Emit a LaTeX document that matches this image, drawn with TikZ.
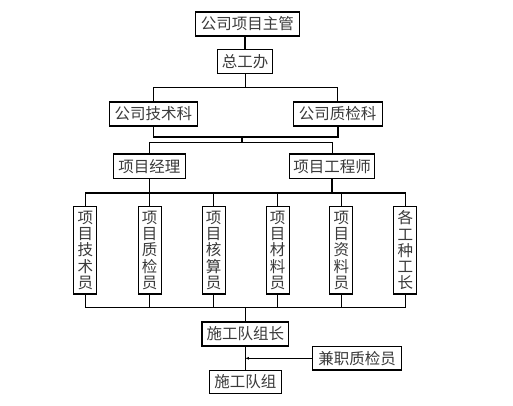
\documentclass[tikz,border=0pt]{standalone}
\usepackage{fontspec}
\setmainfont{Noto Sans CJK SC}
\usetikzlibrary{arrows.meta}
\definecolor{txt}{HTML}{3A3A3A}
\tikzset{
  box/.style={draw=black, line width=1.1pt, fill=white, inner sep=0pt, text=txt,
    font=\fontsize{15.5}{16.3}\selectfont, align=center},
  vbox/.style={box, minimum width=23pt, minimum height=87.3pt, text width=16pt},
  conn/.style={draw=black, line width=0.9pt},
  thick conn/.style={draw=black, line width=1.6pt},
}
\begin{document}
\begin{tikzpicture}[x=1pt,y=-1pt]
\useasboundingbox (0,0) rectangle (513,406);
\node[box, minimum width=104pt, minimum height=24pt] (top) at (247.3,24) {公司项目主管};
\node[box, minimum width=55.4pt, minimum height=24pt] (zgb) at (245,61.3) {总工办};
\node[box, minimum width=88pt, minimum height=24pt] (jsk) at (153.3,114) {公司技术科};
\node[box, minimum width=88.7pt, minimum height=24pt] (zjk) at (337.7,114) {公司质检科};
\node[box, minimum width=72pt, minimum height=24.7pt] (xmjl) at (149.3,166.3) {项目经理};
\node[box, minimum width=85.4pt, minimum height=24.7pt] (xmgcs) at (332,166.3) {项目工程师};
\node[vbox] (v1) at (85.3,250.3) {项\\目\\技\\术\\员};
\node[vbox] (v2) at (149.7,250.3) {项\\目\\质\\检\\员};
\node[vbox] (v3) at (213.7,250.3) {项\\目\\核\\算\\员};
\node[vbox] (v4) at (277.7,250.3) {项\\目\\材\\料\\员};
\node[vbox] (v5) at (341.3,250.3) {项\\目\\资\\料\\员};
\node[vbox] (v6) at (405.3,250.3) {各\\工\\种\\工\\长};
\node[box, minimum width=86.7pt, minimum height=24pt] (sgdzz) at (245.3,334) {施工队组长};
\node[box, minimum width=72pt, minimum height=23.3pt] (sgdz) at (245.3,381.7) {施工队组};
\node[box, minimum width=88.7pt, minimum height=23.3pt] (jz) at (357,358.3) {兼职质检员};

\coordinate (j1) at (245,87.3);
\coordinate (j2) at (242,137.3);
\coordinate (j3) at (242,142.3);
\coordinate (j4) at (245,192.7);
\coordinate (j5) at (245.3,307.5);

\draw[thick conn] (top.south -| zgb.north) -- (zgb.north);
\draw[conn] (zgb.south) -- (j1);
\draw[conn] (jsk.north) |- (j1) -| (zjk.north);
\draw[thick conn] (jsk.south) |- (j2) -| (zjk.south);
\draw[thick conn] (j2) -- (j3);
\draw[conn] (xmjl.north) |- (j3) -| (xmgcs.north);
\draw[conn] (xmjl.south) -- (xmjl.south |- j4);
\draw[thick conn] (xmgcs.south) -- (xmgcs.south |- j4);
\draw[thick conn] (v1.north) |- (j4) -| (v6.north);
\foreach \v in {v2,v3,v4,v5} \draw[conn] (\v.north) -- (\v.north |- j4);
\draw[thick conn] (v1.south) |- (j5) -| (v6.south);
\foreach \v in {v2,v3,v4,v5} \draw[conn] (\v.south) -- (\v.south |- j5);
\draw[conn] (j5) -- (sgdzz.north);
\draw[conn] (sgdzz.south) -- (sgdz.north);
\draw[conn, -{Latex[length=3.5pt,width=3pt]}] (jz.west) -- (jz.west -| sgdzz.south);
\end{tikzpicture}
\end{document}
